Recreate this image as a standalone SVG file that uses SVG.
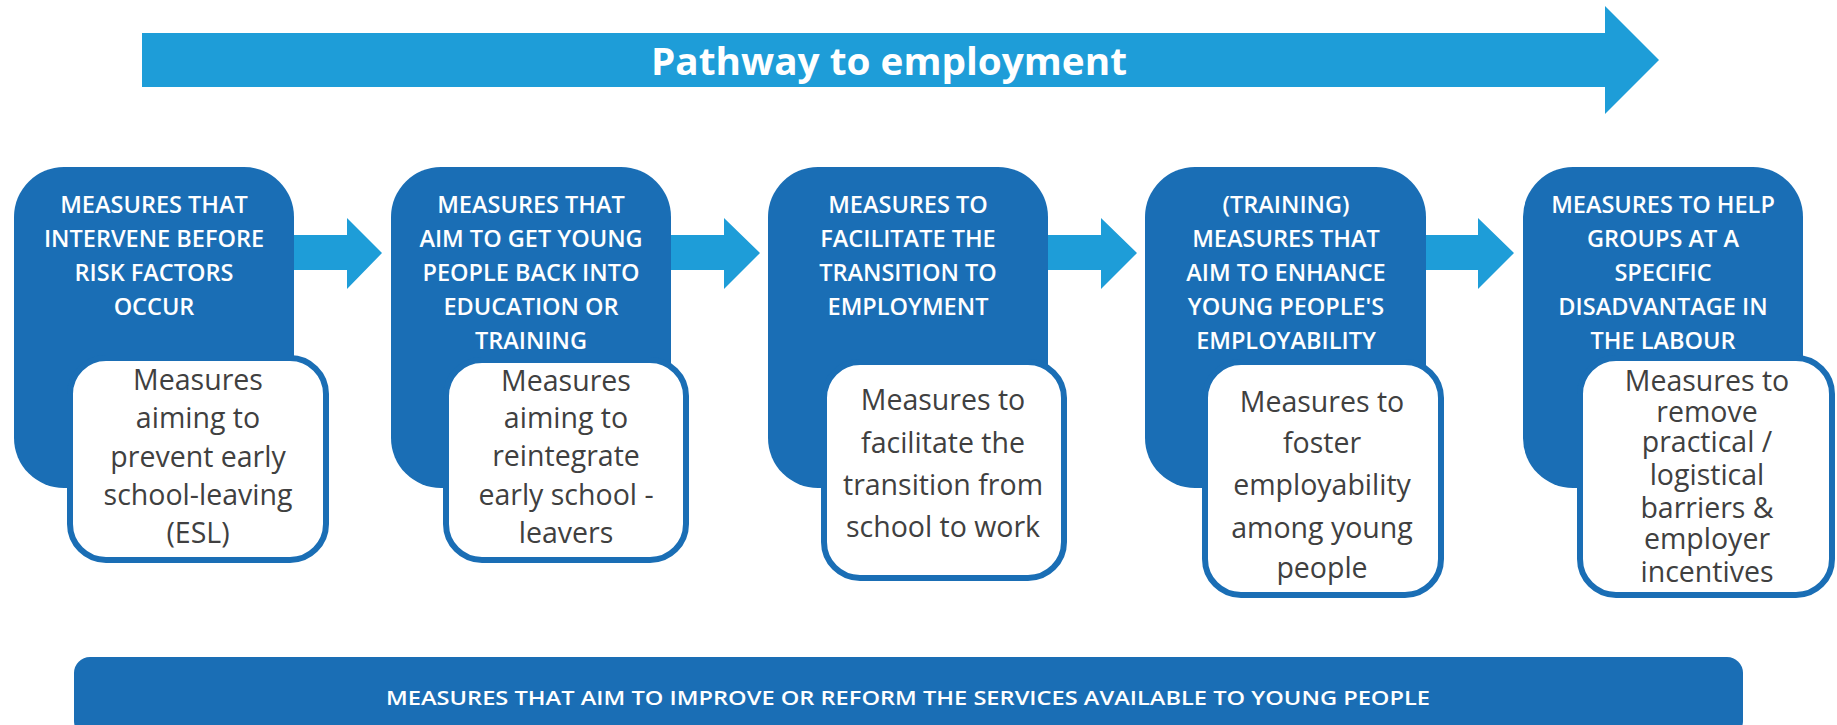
<svg xmlns="http://www.w3.org/2000/svg" width="1837" height="725" viewBox="0 0 1837 725">
<style>
.blue{fill:#1A6EB5}
.inner{fill:#fff;stroke:#1A6EB5;stroke-width:6}
.conn{fill:#1E9DD8}
.ht{font-family:"Open Sans","Liberation Sans",sans-serif;font-weight:600;font-size:23.5px;fill:#fff;text-anchor:middle}
.bt{font-family:"Open Sans","Liberation Sans",sans-serif;font-weight:400;font-size:28.5px;fill:#404040;text-anchor:middle}
</style>
<rect width="1837" height="725" fill="#fff"/>
<g id="pathway">
<polygon class="conn" points="142,33 1605,33 1605,6 1659,60 1605,114 1605,87 142,87"/>
<text x="889" y="75" font-family="'Open Sans','Liberation Sans',sans-serif" font-weight="700" font-size="37" fill="#fff" text-anchor="middle" textLength="476" lengthAdjust="spacingAndGlyphs">Pathway to employment</text>
</g>
<g id="connectors">
<polygon class="conn" points="293,235 347,235 347,218 382,253 347,289 347,270 293,270"/>
<polygon class="conn" points="671,235 724,235 724,218 760,253 724,289 724,270 671,270"/>
<polygon class="conn" points="1047,235 1101,235 1101,218 1137,253 1101,289 1101,270 1047,270"/>
<polygon class="conn" points="1426,235 1478,235 1478,218 1514,253 1478,289 1478,270 1426,270"/>
</g>
<g id="node1">
<rect class="blue" x="14" y="167" width="280" height="321" rx="50"/>
<text class="ht"><tspan x="154" y="213">MEASURES THAT</tspan><tspan x="154" y="247">INTERVENE BEFORE</tspan><tspan x="154" y="281">RISK FACTORS</tspan><tspan x="154" y="315">OCCUR</tspan></text>
<rect class="inner" x="70" y="358" width="256" height="202" rx="36"/>
<text class="bt"><tspan x="198" y="390">Measures</tspan><tspan x="198" y="428">aiming to</tspan><tspan x="198" y="467">prevent early</tspan><tspan x="198" y="505">school-leaving</tspan><tspan x="198" y="543">(ESL)</tspan></text>
</g>
<g id="node2">
<rect class="blue" x="391" y="167" width="280" height="321" rx="50"/>
<text class="ht"><tspan x="531" y="213">MEASURES THAT</tspan><tspan x="531" y="247">AIM TO GET YOUNG</tspan><tspan x="531" y="281">PEOPLE BACK INTO</tspan><tspan x="531" y="315">EDUCATION OR</tspan><tspan x="531" y="349">TRAINING</tspan></text>
<rect class="inner" x="446" y="360" width="240" height="200" rx="36"/>
<text class="bt"><tspan x="566" y="391">Measures</tspan><tspan x="566" y="428">aiming to</tspan><tspan x="566" y="466">reintegrate</tspan><tspan x="566" y="505">early school -</tspan><tspan x="566" y="543">leavers</tspan></text>
</g>
<g id="node3">
<rect class="blue" x="768" y="167" width="280" height="321" rx="50"/>
<text class="ht"><tspan x="908" y="213">MEASURES TO</tspan><tspan x="908" y="247">FACILITATE THE</tspan><tspan x="908" y="281">TRANSITION TO</tspan><tspan x="908" y="315">EMPLOYMENT</tspan></text>
<rect class="inner" x="824" y="362" width="240" height="216" rx="36"/>
<text class="bt"><tspan x="943" y="410">Measures to</tspan><tspan x="943" y="453">facilitate the</tspan><tspan x="943" y="495">transition from</tspan><tspan x="943" y="537">school to work</tspan></text>
</g>
<g id="node4">
<rect class="blue" x="1145" y="167" width="281" height="321" rx="50"/>
<text class="ht"><tspan x="1286" y="213">(TRAINING)</tspan><tspan x="1286" y="247">MEASURES THAT</tspan><tspan x="1286" y="281">AIM TO ENHANCE</tspan><tspan x="1286" y="315">YOUNG PEOPLE'S</tspan><tspan x="1286" y="349">EMPLOYABILITY</tspan></text>
<rect class="inner" x="1205" y="362" width="236" height="233" rx="36"/>
<text class="bt"><tspan x="1322" y="412">Measures to</tspan><tspan x="1322" y="453">foster</tspan><tspan x="1322" y="495">employability</tspan><tspan x="1322" y="538">among young</tspan><tspan x="1322" y="578">people</tspan></text>
</g>
<g id="node5">
<rect class="blue" x="1523" y="167" width="280" height="321" rx="50"/>
<text class="ht"><tspan x="1663" y="213">MEASURES TO HELP</tspan><tspan x="1663" y="247">GROUPS AT A</tspan><tspan x="1663" y="281">SPECIFIC</tspan><tspan x="1663" y="315">DISADVANTAGE IN</tspan><tspan x="1663" y="349">THE LABOUR</tspan></text>
<rect class="inner" x="1580" y="358" width="252" height="237" rx="36"/>
<text class="bt"><tspan x="1707" y="391">Measures to</tspan><tspan x="1707" y="422">remove</tspan><tspan x="1707" y="452">practical /</tspan><tspan x="1707" y="485">logistical</tspan><tspan x="1707" y="518">barriers &amp;</tspan><tspan x="1707" y="549">employer</tspan><tspan x="1707" y="582">incentives</tspan></text>
</g>
<g id="services">
<rect class="blue" x="74" y="657" width="1669" height="80" rx="16"/>
<text x="908" y="705" font-family="'Open Sans','Liberation Sans',sans-serif" font-weight="600" font-size="20" fill="#fff" text-anchor="middle" textLength="1044" lengthAdjust="spacingAndGlyphs">MEASURES THAT AIM TO IMPROVE OR REFORM THE SERVICES AVAILABLE TO YOUNG PEOPLE</text>
</g>
</svg>
